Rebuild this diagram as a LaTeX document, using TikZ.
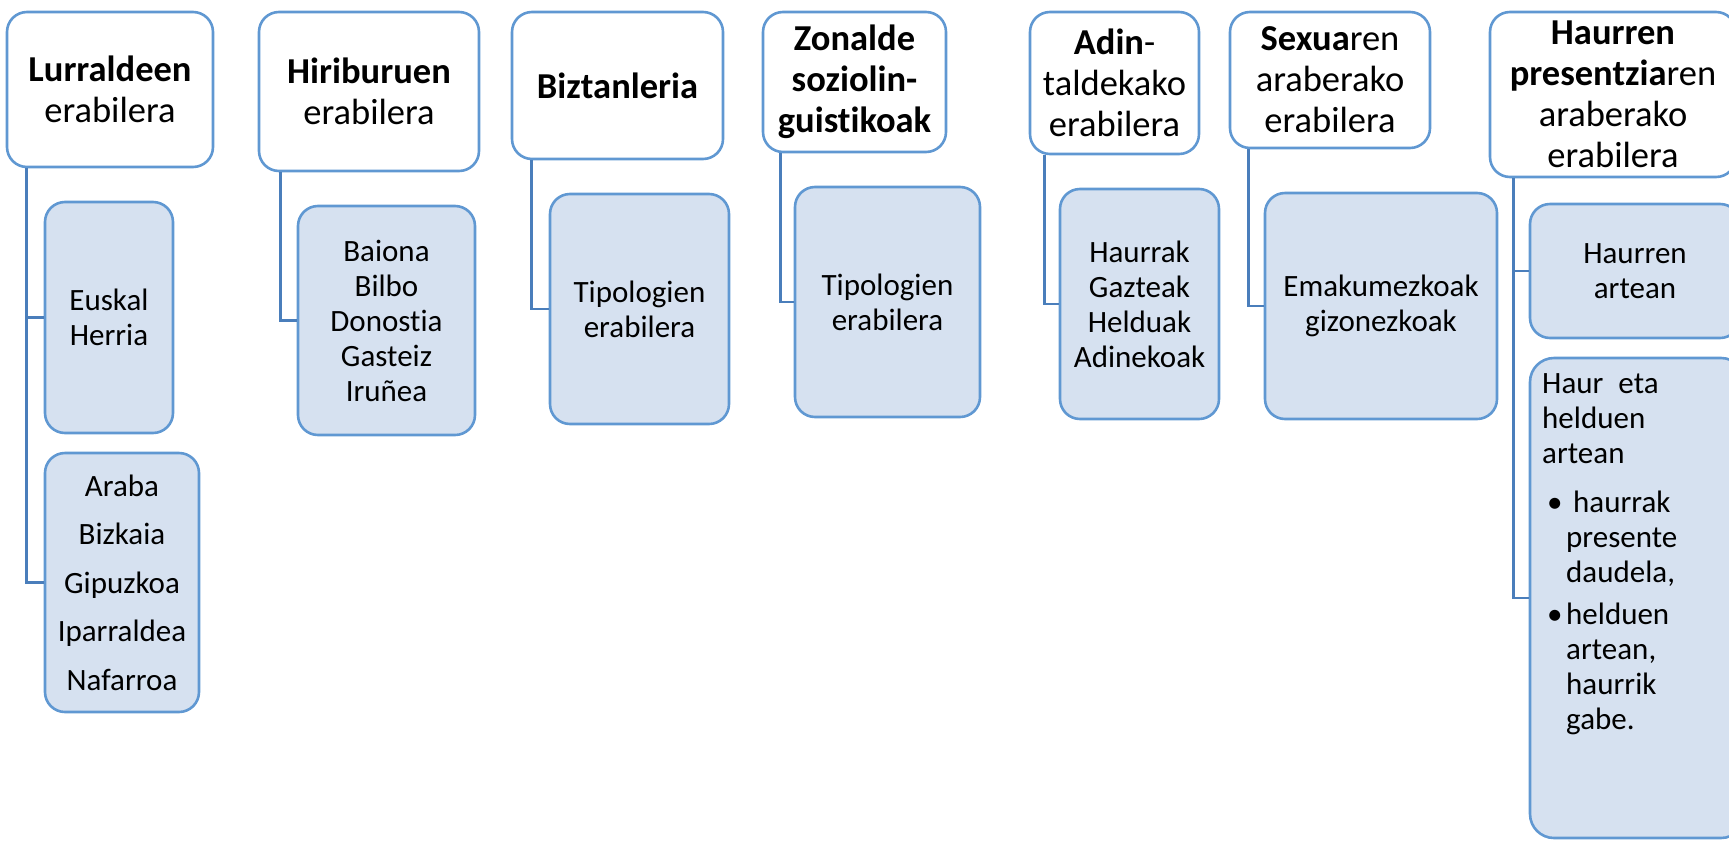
\documentclass[tikz,border=0pt]{standalone}
\usepackage{fontspec}
\setmainfont{Carlito}[Ligatures={NoCommon}]
\definecolor{bord}{RGB}{96,152,210}
\definecolor{connc}{RGB}{74,126,187}
\definecolor{subfill}{RGB}{214,225,240}
\tikzset{
  hdr/.style={draw=bord, fill=white, line width=2.6pt, rounded corners=20pt, align=center,
    font=\fontsize{36.5}{41}\selectfont, inner sep=0pt},
  sub/.style={draw=bord, fill=subfill, line width=2.6pt, rounded corners=20pt, align=center,
    font=\fontsize{31}{35}\selectfont, inner sep=0pt},
  conn/.style={draw=connc, line width=2.6pt},
  sz/.style 2 args={minimum width=#1pt, minimum height=#2pt}
}
\begin{document}
\begin{tikzpicture}[x=1pt,y=-1pt]
\useasboundingbox (0,0) rectangle (1729,841);
\clip (0,0) rectangle (1729,841);
% headers
\node[hdr, sz={206}{155}] (h1) at (110,89.5) {\textbf{Lurraldeen}\\erabilera};
\node[hdr, sz={220}{159}] (h2) at (369,91.5) {\textbf{Hiriburuen}\\erabilera};
\node[hdr, sz={211}{147}] (h3) at (617.5,85.5) {\textbf{Biztanleria}};
\node[hdr, sz={183}{140}] (h4) at (854.5,82) {\textbf{Zonalde}\\\textbf{soziolin-}\\\textbf{guistikoak}};
\node[hdr, sz={169}{142}] (h5) at (1114.5,83) {\textbf{Adin}-\\taldekako\\erabilera};
\node[hdr, sz={200}{136}] (h6) at (1330,80) {\textbf{Sexua}ren\\araberako\\erabilera};
\node[hdr, sz={246}{165}] (h7) at (1613,94.5) {\textbf{Haurren}\\\textbf{presentzia}ren\\araberako\\erabilera};
% children
\node[sub, sz={128}{231}] (c1a) at (109,317.5) {Euskal\\Herria};
\node[sub, sz={154}{259}, font=\fontsize{31}{48.5}\selectfont] (c1b) at (122,582.5) {Araba\\Bizkaia\\Gipuzkoa\\Iparraldea\\Nafarroa};
\node[sub, sz={177}{229}] (c2) at (386.5,320.5) {Baiona\\Bilbo\\Donostia\\Gasteiz\\Iruñea};
\node[sub, sz={179}{230}] (c3) at (639.5,309) {Tipologien\\erabilera};
\node[sub, sz={185}{230}] (c4) at (887.5,302) {Tipologien\\erabilera};
\node[sub, sz={159}{230}] (c5) at (1139.5,304) {Haurrak\\Gazteak\\Helduak\\Adinekoak};
\node[sub, sz={232}{226}] (c6) at (1381,306) {Emakumezkoak\\gizonezkoak};
\node[sub, sz={210}{134}] (c7a) at (1635,271) {Haurren\\artean};
\node[sub, sz={215}{480}, rounded corners=24pt] (c7b) at (1637.5,598) {};
\node[anchor=north west, align=left, inner sep=0pt, font=\fontsize{31}{35}\selectfont] (c7t) at (1542,373)
 {Haur\hspace{15pt}eta\\helduen\\artean\\[14pt]
  \hspace*{5pt}\makebox[19pt][l]{\textbullet}\hspace*{7pt}haurrak\\
  \hspace*{24pt}presente\\
  \hspace*{24pt}daudela,\\[7pt]
  \hspace*{5pt}\makebox[19pt][l]{\textbullet}helduen\\
  \hspace*{24pt}artean,\\
  \hspace*{24pt}haurrik\\
  \hspace*{24pt}gabe.};
% connectors
\draw[conn] ([xshift=21pt]h1.south west) |- (c1a.west);
\draw[conn] ([xshift=21pt]h1.south west) |- (c1b.west);
\draw[conn] ([xshift=23pt]h2.south west) |- (c2.west);
\draw[conn] ([xshift=21pt]h3.south west) |- (c3.west);
\draw[conn] ([xshift=19pt]h4.south west) |- (c4.west);
\draw[conn] ([xshift=16pt]h5.south west) |- (c5.west);
\draw[conn] ([xshift=20pt]h6.south west) |- (c6.west);
\draw[conn] ([xshift=25pt]h7.south west) |- (c7a.west);
\draw[conn] ([xshift=25pt]h7.south west) |- (c7b.west);
\end{tikzpicture}
\end{document}
